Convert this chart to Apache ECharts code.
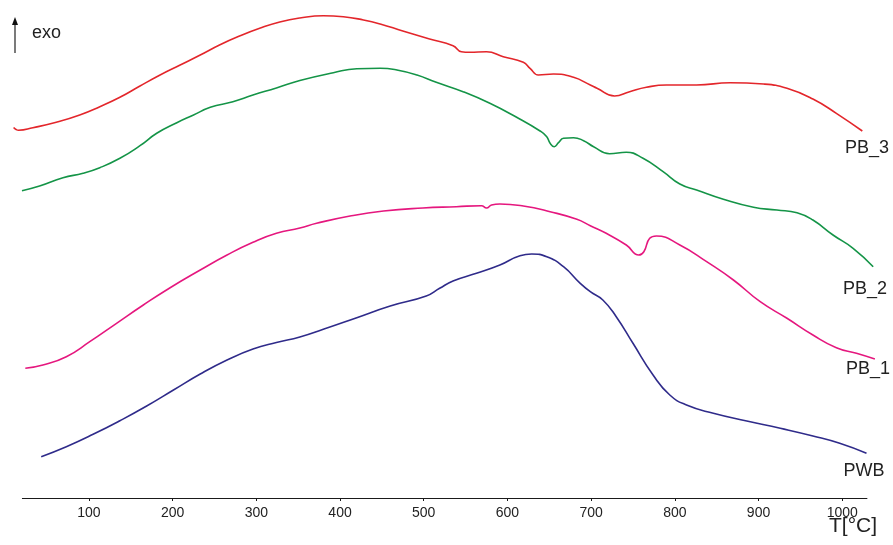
<!DOCTYPE html>
<html>
<head>
<meta charset="utf-8">
<script src="https://cdn.jsdelivr.net/npm/echarts@6/dist/echarts.min.js"></script>
<style>html,body{margin:0;padding:0;background:#fff}#c{width:893px;height:545px}</style>
</head>
<body>
<div id="c"></div>
<script>
// Temperature ticks (°C)
const tickValues = [100, 200, 300, 400, 500, 600, 700, 800, 900, 1000];
const axisLineRange = [20, 1030];
const seriesNames = ['PB_3', 'PB_2', 'PB_1', 'PWB'];
// [T °C, heat flow (arb. units, exo up)]
const pb3 = [[10,370.5],[13,368.5],[16,367.8],[33,370.3],[61,375.7],[89,383],[113,391.3],[137,400.7],[161,412],[185,423],[209,433],[233,443],[256,453],[280,462],[304,469.7],[328,476],[352,480],[380,482.3],[404,481.3],[428,478],[448,474],[475,467],[507,459],[535,452.3],[545,446.3],[555,445.7],[575,446.3],[595,441.3],[619,435.7],[627,429.7],[637,423],[655,424],[679,420.7],[699,413],[707,409.7],[728,402],[746,406.3],[766,410.7],[790,413],[826,413],[866,415.3],[906,414],[934,409.7],[965,399],[993,384.7],[1024,367]];
const pb2 = [[20,307.3],[41,312],[69,320.3],[93,324.7],[113,330.3],[137,339.7],[161,352.3],[181,364.7],[205,375.3],[225,383],[245,390.7],[272,396.3],[296,403],[324,410],[352,417.5],[392,425.3],[420,429.3],[448,429.7],[468,428],[492,423],[515,415.7],[547,406.3],[579,394.7],[611,380.7],[639,367],[647,361.3],[651,354.7],[656,351.3],[661,355.3],[667,359.7],[679,360.3],[691,357.3],[703,351.3],[722,344.3],[742,345.7],[762,339.7],[786,326.3],[806,314],[826,308],[858,298.7],[894,290.7],[922,288],[946,285.3],[965,278],[989,263],[1013,249.7],[1037,231.3]];
const pb1 = [[24,129.7],[45,133],[73,141.3],[101,156.3],[133,174.7],[165,193],[197,210.3],[233,228],[265,243],[296,255.7],[324,264.7],[352,270],[372,274.7],[412,282],[452,287],[499,290],[539,291.3],[569,292.3],[575,290],[581,293],[591,294],[619,292],[651,286.3],[683,278.7],[699,272.3],[718,264.7],[742,253],[757,243],[763,246.3],[770,259.7],[778,262],[806,253],[838,236.3],[870,218],[902,196.3],[934,179.7],[965,163],[993,150.3],[1017,144.7],[1039,139]];
const pwb = [[43,41.3],[73,51.3],[105,63.7],[137,77.3],[169,92],[201,108],[233,124],[265,138],[296,149],[324,155.5],[352,161],[380,168.7],[420,180.3],[460,192],[503,202],[519,209.7],[535,217],[563,224.7],[591,233],[615,242.3],[629,244],[647,241.3],[667,231.3],[687,214.7],[699,206.3],[714,198],[730,181.3],[750,154.7],[774,123],[794,103],[814,93],[846,84.7],[886,77],[926,69.7],[965,62],[997,54.7],[1029,44.7]];
const seriesData = [pb3, pb2, pb1, pwb];
const colors = ['#e3262b', '#149447', '#e5177e', '#2f2b8a'];
const labelPos = [[867, 148], [865, 289], [868, 369], [864, 471]];

const chart = echarts.init(document.getElementById('c'), null, {renderer: 'canvas'});
const FONT = '"Liberation Sans", Arial, sans-serif';
const series = seriesData.map((d, i) => ({
  name: seriesNames[i], type: 'line', data: d, smooth: 0.5, showSymbol: false,
  clip: false, lineStyle: {color: colors[i], width: 1.6}, z: 3
}));
// x axis baseline spanning the drawn axis range
series.push({
  type: 'line', data: [], silent: true, z: 2,
  markLine: {
    silent: true, symbol: 'none', label: {show: false},
    lineStyle: {color: '#1a1a1a', width: 1.2, type: 'solid'},
    data: [[{coord: [axisLineRange[0], 0]}, {coord: [axisLineRange[1], 0]}]]
  }
});
chart.setOption({
  animation: false,
  backgroundColor: '#fff',
  grid: {left: 13.6, right: 17.3, top: 0, bottom: 47, containLabel: false},
  xAxis: {
    type: 'value', min: 10, max: 1040,
    axisLine: {show: false},
    axisTick: {show: true, length: 3, customValues: tickValues, lineStyle: {color: '#1a1a1a'}},
    axisLabel: {customValues: tickValues, color: '#222', fontSize: 14, fontFamily: FONT, margin: 8,
      formatter: v => String(v)},
    splitLine: {show: false}
  },
  yAxis: {type: 'value', min: 0, max: 498, show: false},
  series: series,
  graphic: [
    ...seriesNames.map((n, i) => ({
      type: 'text', x: labelPos[i][0], y: labelPos[i][1],
      style: {text: n, fill: '#222', font: '18px ' + FONT, align: 'center', verticalAlign: 'middle'}
    })),
    {type: 'text', x: 853, y: 526, style: {text: 'T[°C]', fill: '#222', font: '21px ' + FONT, align: 'center', verticalAlign: 'middle'}},
    {type: 'text', x: 32, y: 33, style: {text: 'exo', fill: '#222', font: '18px ' + FONT, align: 'left', verticalAlign: 'middle'}},
    {type: 'line', shape: {x1: 15, y1: 53, x2: 15, y2: 24}, style: {stroke: '#222', lineWidth: 1.2}},
    {type: 'polygon', shape: {points: [[15, 17], [12, 25], [18, 25]]}, style: {fill: '#111'}}
  ]
});
</script>
</body>
</html>
